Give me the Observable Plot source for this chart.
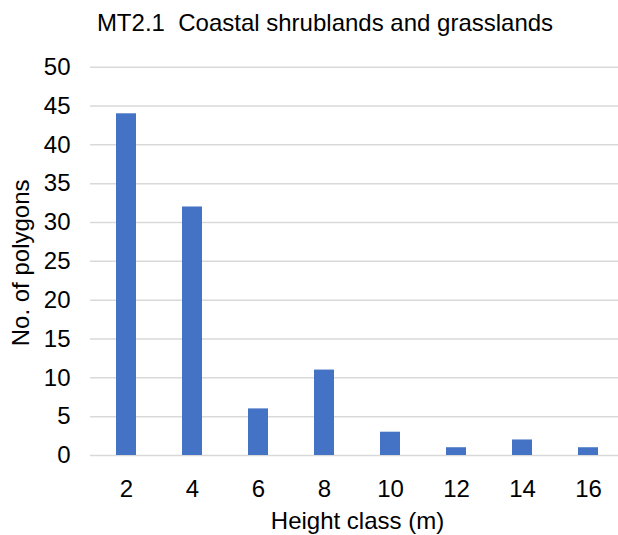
<!DOCTYPE html>
<html>
<head>
<meta charset="utf-8">
<script src="https://cdn.jsdelivr.net/npm/d3@7"></script>
<script src="https://cdn.jsdelivr.net/npm/@observablehq/plot@0.6"></script>
<style>
  html, body { margin: 0; padding: 0; background: #fff; overflow: hidden; }
  #title { position: relative; width: 618px; height: 45px; font-family: "Liberation Sans", Arial, sans-serif; }
  #title span { position: absolute; top: 9px; left: 0; width: 618px; padding-left: 32px; box-sizing: border-box; text-align: center; font-size: 24px; white-space: pre; color: #000; }
  svg { display: block; }
</style>
</head>
<body>
<div id="title"><span>MT2.1  Coastal shrublands and grasslands</span></div>
<div id="chart"></div>
<script>
const heightClasses = [2, 4, 6, 8, 10, 12, 14, 16];
const polygonCounts = [44, 32, 6, 11, 3, 1, 2, 1];
const yTicks = [0, 5, 10, 15, 20, 25, 30, 35, 40, 45, 50];
const xLabel = "Height class (m)";
const yLabel = "No. of polygons";

const data = heightClasses.map((h, i) => ({h, n: polygonCounts[i]}));

const chart = Plot.plot({
  width: 618,
  height: 490,
  marginLeft: 90,
  marginRight: 0,
  marginTop: 21.7,
  marginBottom: 80,
  style: {fontFamily: "Liberation Sans, Arial, sans-serif", fontSize: "24px", color: "#000", background: "#fff", overflow: "hidden"},
  x: {type: "band", domain: heightClasses, range: [90, 624], paddingInner: 0.69, paddingOuter: 0.345},
  y: {domain: [0, 50]},
  marks: [
    Plot.ruleY(yTicks, {stroke: "#d9d9d9", strokeWidth: 1.5}),
    Plot.barY(data, {x: "h", y: "n", fill: "#4472C4"}),
    Plot.axisY({ticks: yTicks, tickSize: 0, tickPadding: 20, label: null, fontSize: 24}),
    Plot.axisX({tickSize: 0, tickPadding: 24, label: null, fontSize: 24}),
    Plot.text([xLabel], {frameAnchor: "bottom", dx: 3, dy: 73.3, lineAnchor: "bottom", fontSize: 24}),
    Plot.text([yLabel], {frameAnchor: "left", textAnchor: "middle", dx: -62, dy: 1.5, rotate: -90, lineAnchor: "bottom", fontSize: 24})
  ]
});
document.getElementById("chart").appendChild(chart);
</script>
</body>
</html>
